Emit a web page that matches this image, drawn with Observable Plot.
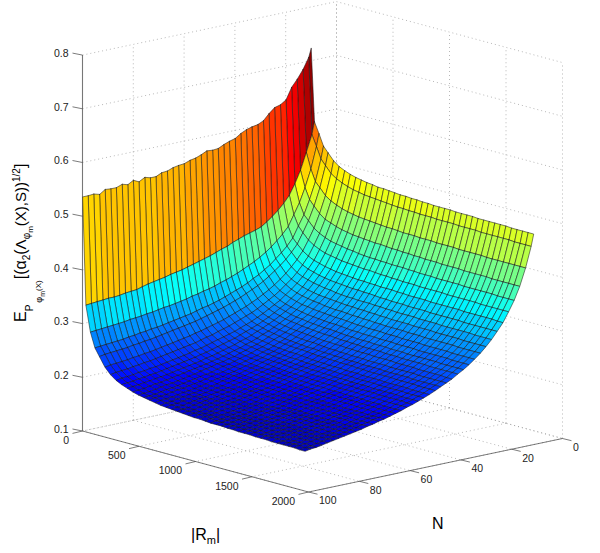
<!DOCTYPE html>
<html><head><meta charset="utf-8">
<style>html,body{margin:0;padding:0;background:#fff}svg{display:block}</style>
<script src="https://cdn.jsdelivr.net/npm/d3@7"></script>
<script src="https://cdn.jsdelivr.net/npm/@observablehq/plot@0.6"></script>
</head><body><div id="c"></div><script>
const Ns=[10,11,13.2,15.5,17.7,19.9,22.1,24.4,26.6,28.8,31,33.3,35.5,37.7,39.9,42.2,44.4,46.6,48.8,51.1,53.3,55.5,57.7,60,62.2,64.4,66.6,68.9,71.1,73.3,75.5,77.8,80,82.2,84.4,86.7,88.9,91.1,93.3,95.6,97.8,100];
const Rs=[1,30,70,110,150,199,248,298,347,396,445,494,544,593,642,691,740,790,839,888,937,986,1036,1085,1134,1183,1232,1282,1331,1380,1429,1478,1528,1577,1626,1675,1724,1774,1823,1872,1921,1970];
// surface height, in thousandths; one row per N, one column per |Rm|
const zMilli=[
[723,588,568,547,537,525,517,512,508,505,503,501,500,498,498,497,496,495,495,494,494,493,493,492,492,492,492,491,491,491,491,490,490,490,490,490,490,489,489,489,489,489],
[707,565,545,524,514,502,495,490,486,483,481,479,478,477,476,475,474,473,473,472,472,471,471,471,470,470,470,470,469,469,469,469,468,468,468,468,468,468,467,467,467,467],
[687,534,505,484,475,463,456,451,447,444,442,440,439,438,437,436,435,435,434,433,433,433,432,432,432,431,431,431,431,430,430,430,430,430,429,429,429,429,429,429,429,429],
[671,503,473,453,443,432,424,420,416,413,411,409,408,407,406,405,405,404,403,403,402,402,401,401,400,400,400,399,399,399,399,398,398,398,398,398,397,397,397,397,397,397],
[658,480,447,427,418,407,400,395,391,389,387,385,384,382,381,380,380,379,379,378,378,378,377,377,376,376,376,375,375,375,375,375,374,374,374,374,374,374,373,373,373,373],
[637,461,427,408,398,387,380,375,371,369,367,365,364,363,362,361,361,360,359,359,358,358,357,357,357,356,356,356,356,356,355,355,355,355,355,355,354,354,354,354,354,354],
[630,448,407,388,379,369,362,357,354,351,349,347,346,345,344,343,343,342,342,341,341,341,340,340,339,339,339,339,338,338,338,338,338,338,337,337,337,337,337,337,336,336],
[627,437,395,375,366,355,348,343,340,337,335,333,332,331,330,329,329,328,328,327,326,326,325,325,325,324,324,324,324,323,323,323,323,323,323,322,322,322,322,322,322,322],
[618,428,385,365,355,344,336,331,328,325,323,321,320,318,317,316,316,315,315,315,314,314,313,313,312,312,312,312,311,311,311,311,310,310,310,310,310,310,309,309,309,309],
[607,420,376,356,346,334,326,321,317,314,312,310,309,308,307,306,305,305,304,304,303,303,302,302,301,301,301,301,300,300,300,300,299,299,299,299,299,298,298,298,298,298],
[602,413,368,347,338,325,318,312,308,305,303,301,300,298,297,296,296,295,294,294,293,293,292,292,291,291,291,291,290,290,290,289,289,289,289,289,289,288,288,288,288,288],
[600,409,361,340,330,317,309,304,300,297,294,293,291,290,289,288,287,287,286,285,284,284,283,283,283,282,282,282,281,281,281,281,280,280,280,280,280,279,279,279,279,279],
[597,406,355,333,323,310,302,296,292,289,287,285,283,282,281,280,279,279,278,277,276,276,275,275,275,274,274,274,273,273,273,273,272,272,272,272,272,272,271,271,271,271],
[592,403,350,328,317,304,296,290,286,283,280,278,277,275,274,273,272,272,271,270,269,269,268,268,268,267,267,267,266,266,266,265,265,265,265,265,265,264,264,264,264,264],
[585,399,345,322,312,298,290,284,280,277,274,272,271,269,268,267,266,265,265,264,263,263,262,262,261,261,261,261,260,260,260,259,259,259,259,259,258,258,258,258,258,258],
[582,395,340,317,307,293,284,278,274,271,268,266,264,263,262,261,260,259,258,258,257,257,256,256,255,255,255,254,254,254,254,253,253,253,253,252,252,252,252,252,251,251],
[578,390,336,313,302,288,279,273,269,266,263,261,259,258,256,255,254,254,253,252,251,251,250,250,249,249,249,248,248,248,248,247,247,247,247,247,246,246,246,246,246,246],
[573,387,332,309,298,284,275,268,264,261,258,256,254,252,251,250,249,248,248,247,246,246,245,245,244,244,244,243,243,243,243,242,242,242,242,242,241,241,241,241,241,241],
[572,383,329,305,294,280,271,264,260,257,254,252,250,248,247,246,245,245,244,243,242,242,241,241,240,240,240,239,239,238,238,238,238,238,237,237,237,237,236,236,236,236],
[573,379,325,301,290,276,267,260,256,252,249,247,245,243,242,241,240,240,239,238,237,236,236,235,235,235,234,234,234,233,233,233,233,232,232,232,232,232,231,231,231,231],
[568,376,322,298,287,272,263,256,252,248,245,243,241,239,238,237,236,235,235,234,233,233,232,232,231,231,230,230,230,229,229,229,229,228,228,228,228,228,227,227,227,227],
[564,373,320,295,284,269,260,253,248,245,242,240,238,236,235,234,233,232,231,230,229,229,228,228,227,227,226,226,226,225,225,225,225,224,224,224,224,224,223,223,223,223],
[562,370,317,293,281,266,257,250,245,241,238,236,234,232,231,230,229,229,228,227,226,226,225,224,224,224,223,223,222,222,222,221,221,221,221,220,220,220,220,220,219,219],
[558,367,315,290,278,263,253,247,242,238,235,233,231,229,228,227,226,225,224,223,222,222,221,221,220,220,219,219,219,218,218,218,218,217,217,217,217,216,216,216,216,216],
[557,364,312,287,275,260,251,244,239,235,232,229,228,226,224,223,222,222,221,220,219,219,218,217,217,216,216,216,215,215,215,214,214,214,214,213,213,213,212,212,212,212],
[555,362,310,285,273,258,248,241,236,232,229,227,225,223,222,221,220,219,218,217,216,216,215,214,214,213,213,213,212,212,212,211,211,211,211,210,210,210,209,209,209,209],
[551,360,308,283,271,255,245,238,233,229,226,224,222,220,219,218,217,216,215,214,213,213,212,211,211,211,210,210,209,209,209,208,208,208,208,207,207,207,206,206,206,206],
[550,357,306,281,269,253,243,236,231,227,224,222,220,218,216,215,214,213,212,211,210,210,209,208,208,207,207,207,206,206,206,205,205,205,204,204,204,204,203,203,203,203],
[545,355,305,279,267,251,241,233,228,224,221,219,217,215,214,213,212,211,210,209,208,207,207,206,206,205,205,205,204,204,204,203,203,203,202,202,202,202,201,201,201,201],
[545,353,303,277,265,249,239,231,226,222,219,217,214,213,211,210,209,208,207,206,205,205,204,203,203,202,202,202,201,201,201,200,200,200,199,199,199,199,198,198,198,198],
[548,351,301,275,263,247,237,229,224,220,217,215,212,211,209,208,207,206,205,204,203,203,202,201,201,200,200,200,199,199,199,198,198,198,197,197,197,197,196,196,196,196],
[542,348,300,274,261,245,235,227,222,218,215,212,210,208,207,205,204,203,203,201,200,200,199,199,198,198,197,197,196,196,196,195,195,195,194,194,194,194,193,193,193,193],
[547,345,298,272,259,243,233,225,220,216,213,210,208,206,204,203,202,201,200,199,198,198,197,196,196,195,195,195,194,194,194,193,193,193,192,192,192,192,191,191,191,191],
[541,344,297,271,258,241,231,223,218,214,211,208,206,204,202,201,200,199,198,197,196,196,195,194,194,193,193,193,192,192,192,191,191,191,190,190,190,190,189,189,189,189],
[544,343,296,269,256,240,229,221,216,212,209,206,204,202,200,199,198,197,196,195,194,194,193,192,192,191,191,191,190,190,190,189,189,189,188,188,188,188,187,187,187,187],
[540,341,294,268,255,238,228,220,214,210,207,204,202,200,198,197,196,195,194,193,192,192,191,190,190,189,189,189,188,188,188,187,187,187,186,186,186,186,185,185,185,185],
[540,340,293,266,253,237,226,218,213,209,205,203,200,199,197,196,195,194,193,191,190,190,189,188,188,187,187,187,186,186,186,185,185,185,184,184,184,184,183,183,183,183],
[541,340,292,265,252,235,225,217,211,207,204,201,199,197,195,194,193,192,191,190,189,188,188,187,186,186,185,185,185,184,184,184,183,183,183,183,182,182,182,182,181,181],
[534,339,291,264,251,234,223,215,210,206,202,199,197,195,193,192,191,190,189,188,187,186,186,185,184,184,184,183,183,182,182,182,181,181,181,181,180,180,180,180,179,179],
[537,338,290,263,250,233,222,214,208,204,200,197,195,194,192,190,189,188,187,186,185,184,184,183,182,182,182,181,181,180,180,180,179,179,179,179,178,178,178,178,177,177],
[536,337,289,262,249,232,221,213,207,203,199,196,194,193,191,189,188,187,186,185,184,184,183,182,181,181,180,180,180,179,179,179,178,178,178,178,177,177,177,177,176,176],
[536,336,288,261,247,230,219,211,206,202,198,195,193,191,189,187,186,185,184,183,182,181,181,180,179,179,179,178,178,177,177,177,176,176,176,175,175,175,175,175,174,174]
];
const zTicks=[.1,.2,.3,.4,.5,.6,.7,.8],rTicks=[0,500,1000,1500,2000],nTicks=[0,20,40,60,80,100];
const project=(r,n,z)=>[336+.113*r-2.54*n,377+.0305*r+.535*n-(z-.1)*537];
const clim=[.13,.74];
const jet=z=>{const t=Math.floor(Math.min(.9999,Math.max(0,(z-clim[0])/(clim[1]-clim[0])))*64)/63;
 const c=v=>Math.round(255*Math.min(1,Math.max(0,1.5-Math.abs(4*t-v))));return `rgb(${c(3)},${c(2)},${c(1)})`};
const Z=zMilli.map(row=>row.map(v=>v/1000));
const cells=[];let q=0;
Rs.slice(0,-1).forEach((r,j)=>Ns.slice(0,-1).forEach((n,i)=>{const col=jet(Z[i][j]);
 [[i,j],[i+1,j],[i+1,j+1],[i,j+1],[i,j]].forEach(([a,b])=>{const[x,y]=project(Rs[b],Ns[a],Z[a][b]);cells.push({x,y,q,col})});q++}));
const seg=(a,b)=>{const[x1,y1]=project(...a),[x2,y2]=project(...b);return{x1,y1,x2,y2}};
const grid=[];
for(const z of zTicks){grid.push(seg([0,100,z],[0,0,z]),seg([0,0,z],[2000,0,z]))}
for(const n of nTicks){grid.push(seg([0,n,.1],[0,n,.8]));grid.push(seg([0,n,.1],[2000,n,.1]))}
for(const r of rTicks){grid.push(seg([r,0,.1],[r,0,.8]));grid.push(seg([r,0,.1],[r,100,.1]))}
const axes=[seg([0,100,.1],[2000,100,.1]),seg([2000,100,.1],[2000,0,.1])];
const zAxis=[seg([0,100,.1],[0,100,.8])];
const tk=[],lbE=[],lbS=[];
for(const z of zTicks){const[x,y]=project(0,100,z);tk.push({x1:x,y1:y,x2:x-10,y2:y-2});lbE.push({x:x-14,y:y-1.5,t:z.toFixed(1)})}
for(const r of rTicks){const[x,y]=project(r,100,.1);tk.push({x1:x,y1:y,x2:x-10,y2:y+2.4});lbE.push({x:x-13.5,y:y+9.5,t:String(r)})}
for(const n of nTicks){const[x,y]=project(2000,n,.1);tk.push({x1:x,y1:y,x2:x+9,y2:y+2.2});lbS.push({x:x+10.5,y:y+9,t:String(n)})}
const ff="Liberation Sans, Arial, sans-serif";
const chart=Plot.plot({width:600,height:553,margin:0,x:{domain:[0,600],range:[0,600],axis:null},y:{domain:[0,553],range:[0,553],axis:null},color:{type:"identity"},style:{fontFamily:ff,background:"#fff"},
marks:[
 Plot.link(grid,{x1:"x1",y1:"y1",x2:"x2",y2:"y2",stroke:"#999",strokeWidth:.7,strokeDasharray:"1,3"}),
 Plot.link(axes,{x1:"x1",y1:"y1",x2:"x2",y2:"y2",stroke:"#444",strokeWidth:.7}),
 Plot.link(zAxis,{x1:"x1",y1:"y1",x2:"x2",y2:"y2",stroke:"#777",strokeWidth:1.1}),
 Plot.link(tk,{x1:"x1",y1:"y1",x2:"x2",y2:"y2",stroke:"#444",strokeWidth:.7}),
 Plot.line(cells,{x:"x",y:"y",z:"q",fill:"col",stroke:"#1a1a1a",strokeWidth:.55}),
 Plot.text(lbE,{x:"x",y:"y",text:"t",textAnchor:"end",fontSize:10.5,fill:"#222"}),
 Plot.text(lbS,{x:"x",y:"y",text:"t",textAnchor:"start",fontSize:10.5,fill:"#222"})
]});
const s=d3.select(chart);
const multi=(x,y,rot,parts)=>{const t=s.append("text").attr("transform",`translate(${x},${y}) rotate(${rot})`).attr("font-family",ff).attr("fill","#000").attr("text-anchor","start");
 parts.forEach(([txt,fs,dy,dx])=>t.append("tspan").attr("font-size",fs).attr("dy",dy).attr("dx",dx||0).text(txt))};
multi(26,322,-90,[["E",16,0],["P",10,7],["φ",9,9,2],["m",7,3],["(X)",8,-4],["[",16,-15,1],["(",16,0],["α",16,0],["2",10,4],["(",16,-4],["Λ",15,0],["φ",10,4],["m",8,3],["(X),S))",15,-7],["1/2",10,-6],["]",16,6]]);
multi(191,540,0,[["|R",16,0],["m",11,4],["|",16,-4]]);
multi(432,529,0,[["N",16,0]]);
document.getElementById("c").appendChild(chart);
</script></body></html>
